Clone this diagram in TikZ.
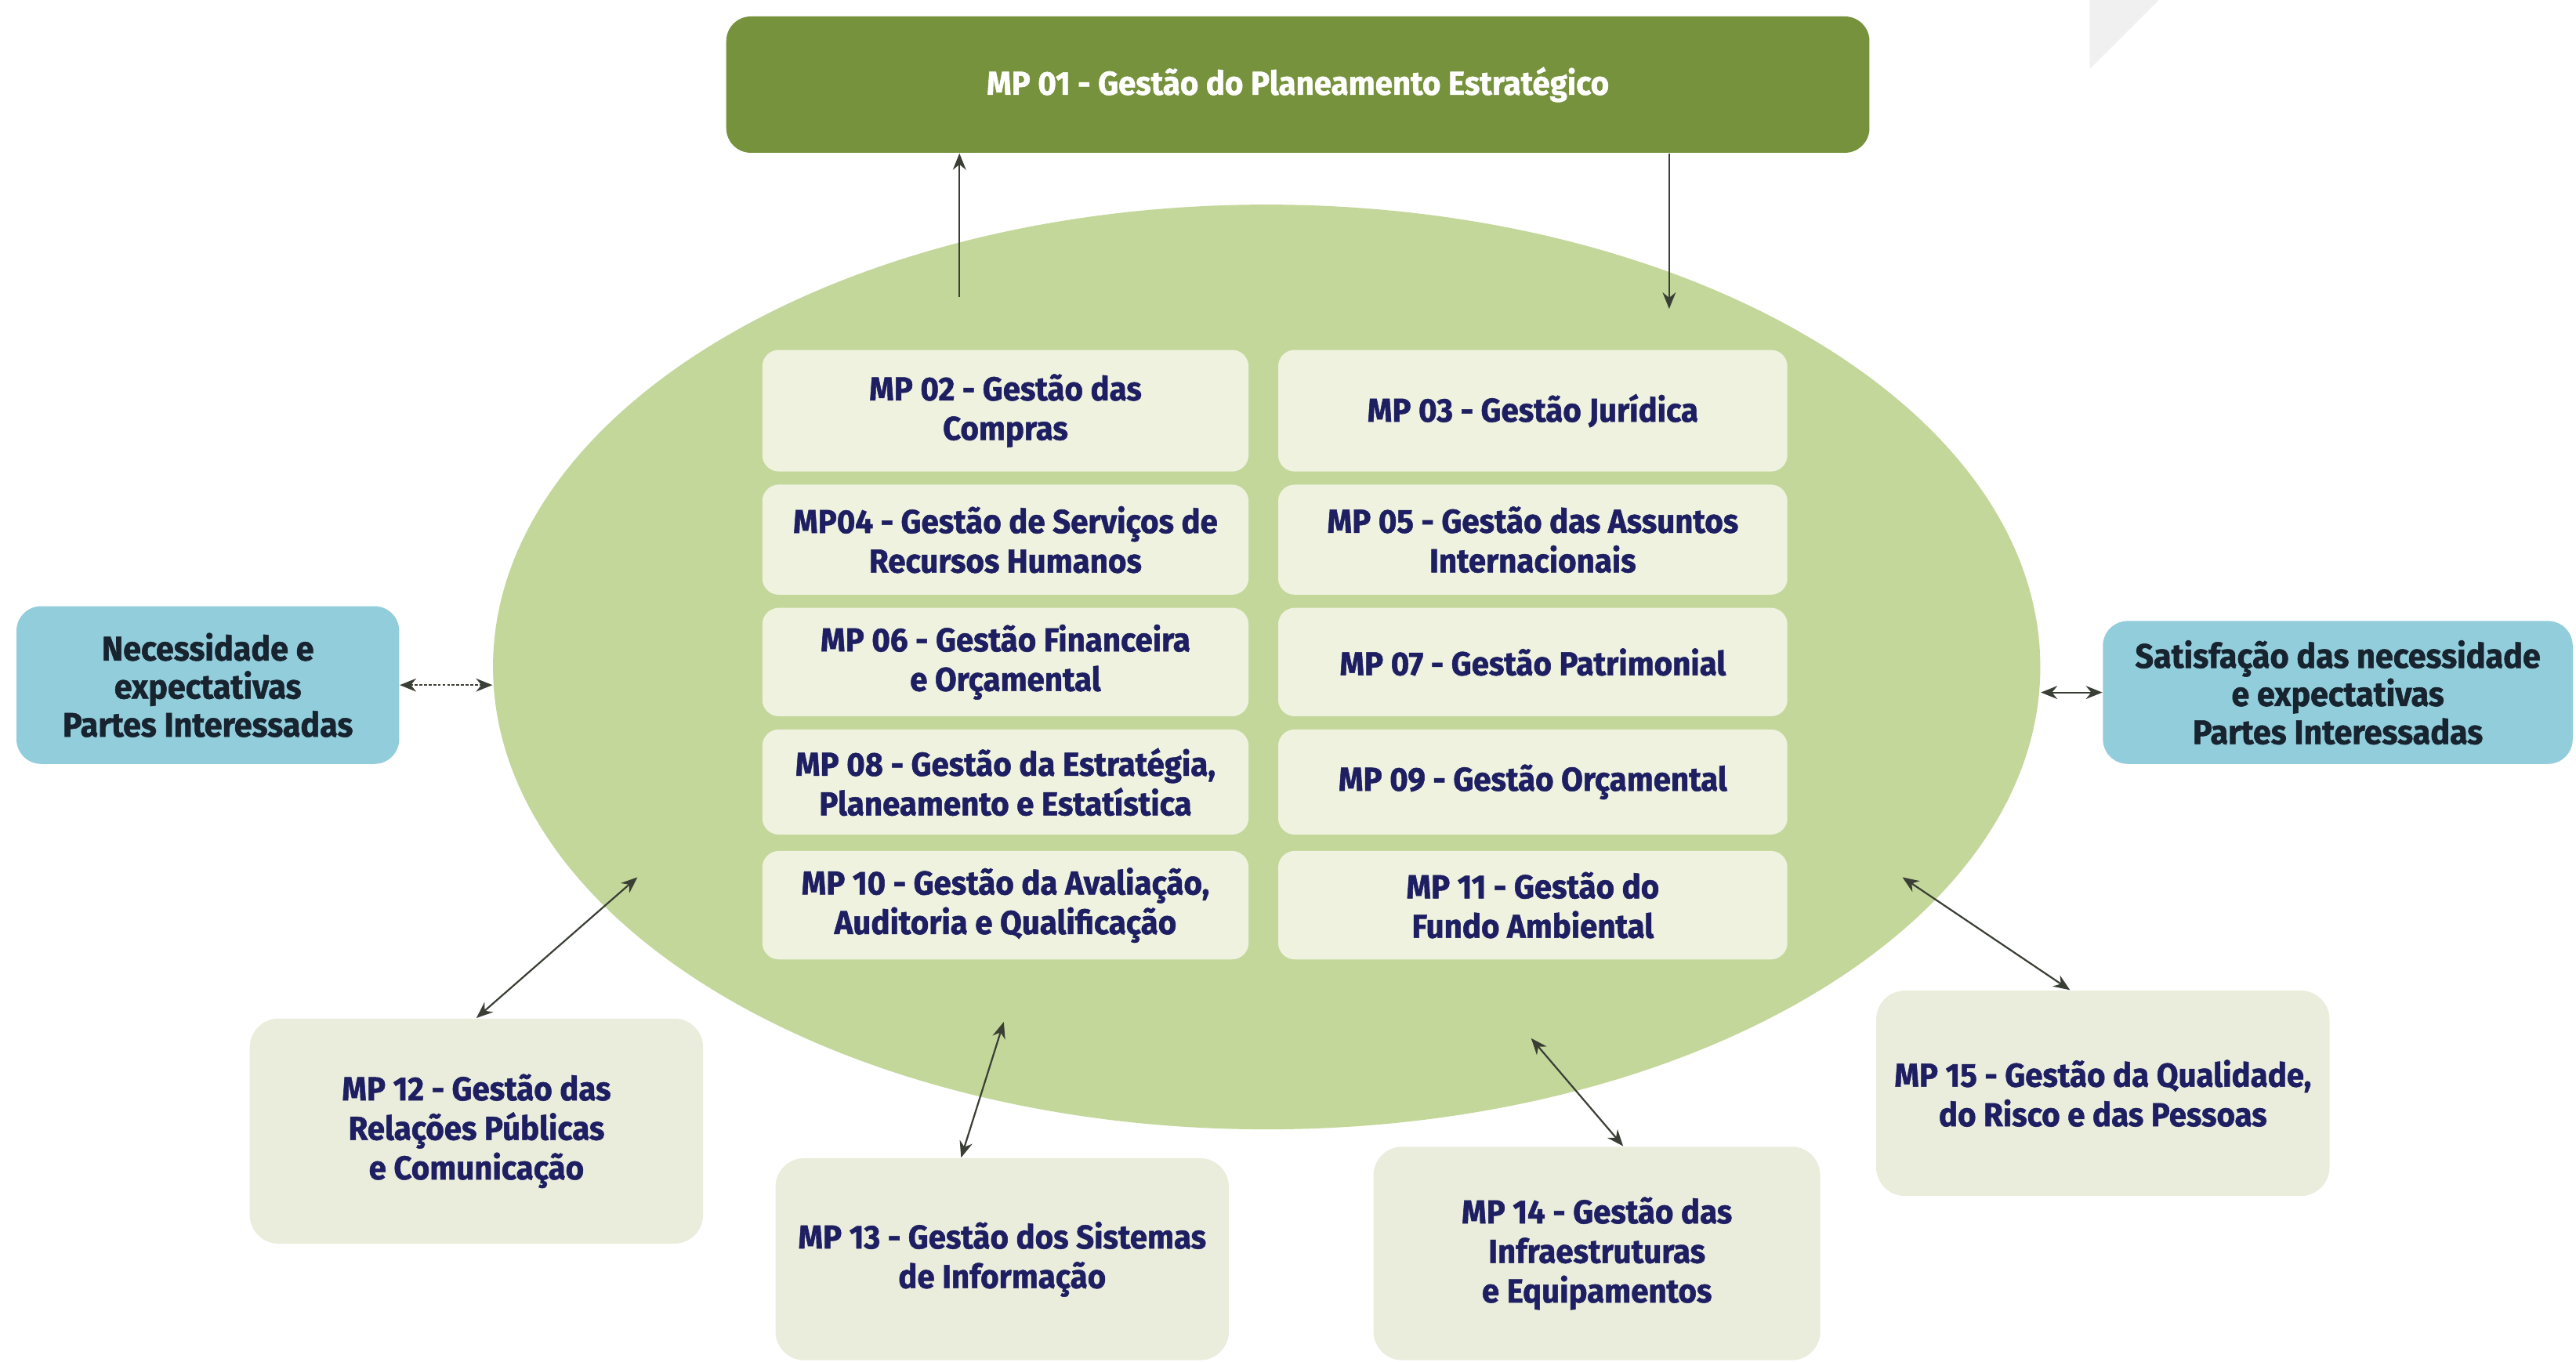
\documentclass[tikz,border=0pt]{standalone}
\usepackage{fontspec}
\setmainfont{Fira Sans}[FakeStretch=0.95,BoldFeatures={FakeBold=1.2}]
\usetikzlibrary{arrows.meta,shapes.geometric,positioning}
\definecolor{oliveDark}{HTML}{76923C}
\definecolor{coreGreen}{HTML}{C4D79B}
\definecolor{boxCream}{HTML}{EEF2DE}
\definecolor{outerCream}{HTML}{EAEDDC}
\definecolor{skyBox}{HTML}{92CDDC}
\definecolor{navyText}{HTML}{1E1F62}
\definecolor{inkText}{HTML}{17232E}
\definecolor{arrowGrey}{HTML}{3A3F35}
\tikzset{
  mpbox/.style={rectangle,rounded corners=0.2cm,fill=boxCream,text=navyText,
    font=\bfseries\fontsize{11.5}{13.7}\selectfont,align=center,inner sep=0},
  leftcol/.style={mpbox,minimum width=5.92cm},
  rightcol/.style={mpbox,minimum width=6.2cm},
  outerbox/.style={mpbox,rounded corners=0.35cm,fill=outerCream,minimum width=5.52cm},
  partbox/.style={rectangle,rounded corners=0.3cm,fill=skyBox,text=inkText,
    font=\bfseries\fontsize{11.8}{13.2}\selectfont,align=center,inner sep=0},
  flow/.style={draw=arrowGrey,line width=0.6pt,-{Stealth[length=2mm,width=1.6mm]}},
  conn/.style={draw=arrowGrey,line width=0.6pt,{Stealth[length=2mm,width=1.6mm]}-{Stealth[length=2mm,width=1.6mm]}}
}
\begin{document}
\begin{tikzpicture}[x=0.02cm,y=-0.02cm]
\useasboundingbox (0,0) rectangle (1568,829);
\fill[white] (0,0) rectangle (1568,829);
\fill[black!6] (1272,0) -- (1314,0) -- (1272,42) -- cycle;
%core
\node[ellipse,fill=coreGreen,minimum width=18.84cm,minimum height=11.26cm,inner sep=0] (core) at (771,406) {};
%top
\node[mpbox,fill=oliveDark,text=white,rounded corners=0.3cm,minimum width=13.92cm,minimum height=1.66cm] (mp01) at (790,51.5) {MP 01 - Gestão do Planeamento Estratégico};
\coordinate (t01) at (584,181);
\coordinate (h01) at (1016,188);
\draw[flow] (t01) -- (t01 |- mp01.south);
\draw[flow] (h01 |- mp01.south) -- (h01);
%inner processes
\node[leftcol,minimum height=1.48cm] (mp02) at (612,250) {MP 02 - Gestão das\\Compras};
\node[rightcol,minimum height=1.48cm] (mp03) at (933,250) {MP 03 - Gestão Jurídica};
\node[leftcol,minimum height=1.34cm] (mp04) at (612,328.5) {MP04 - Gestão de Serviços de\\Recursos Humanos};
\node[rightcol,minimum height=1.34cm] (mp05) at (933,328.5) {MP 05 - Gestão das Assuntos\\Internacionais};
\node[leftcol,minimum height=1.32cm] (mp06) at (612,403) {MP 06 - Gestão Financeira\\e Orçamental};
\node[rightcol,minimum height=1.32cm] (mp07) at (933,403) {MP 07 - Gestão Patrimonial};
\node[leftcol,minimum height=1.28cm] (mp08) at (612,476) {MP 08 - Gestão da Estratégia,\\Planeamento e Estatística};
\node[rightcol,minimum height=1.28cm] (mp09) at (933,476) {MP 09 - Gestão Orçamental};
\node[leftcol,minimum height=1.32cm] (mp10) at (612,551) {MP 10 - Gestão da Avaliação,\\Auditoria e Qualificação};
\node[rightcol,minimum height=1.32cm] (mp11) at (933,551) {MP 11 - Gestão do\\Fundo Ambiental};
%stakeholders
\node[partbox,minimum width=4.66cm,minimum height=1.92cm] (nec) at (126.5,417) {Necessidade e\\expectativas\\Partes Interessadas};
\node[partbox,minimum width=5.72cm,minimum height=1.74cm] (sat) at (1423,421.5) {Satisfação das necessidade\\e expectativas\\Partes Interessadas};
\draw[conn,dash pattern=on 1pt off 0.6pt] (nec.east) -- (nec.east -| core.west);
\draw[conn] (sat.west -| core.east) -- (sat.west);
%outer processes
\node[outerbox,minimum height=2.74cm] (mp12) at (290,688.5) {MP 12 - Gestão das\\Relações Públicas\\e Comunicação};
\node[outerbox,minimum height=2.46cm] (mp13) at (610,766.5) {MP 13 - Gestão dos Sistemas\\de Informação};
\node[outerbox,minimum width=5.44cm,minimum height=2.6cm] (mp14) at (972,763) {MP 14 - Gestão das\\Infraestruturas\\e Equipamentos};
\node[outerbox,minimum height=2.5cm] (mp15) at (1280,665.5) {MP 15 - Gestão da Qualidade,\\do Risco e das Pessoas};
\coordinate (e12) at (388,534);
\coordinate (e13) at (611,622);
\coordinate (e14) at (932,632);
\coordinate (e15) at (1158,534);
\draw[conn] (mp12.north) -- (e12);
\draw[conn] ([xshift=-0.5cm]mp13.north) -- (e13);
\draw[conn] ([xshift=0.32cm]mp14.north) -- (e14);
\draw[conn] ([xshift=-0.4cm]mp15.north) -- (e15);
\end{tikzpicture}
\end{document}
